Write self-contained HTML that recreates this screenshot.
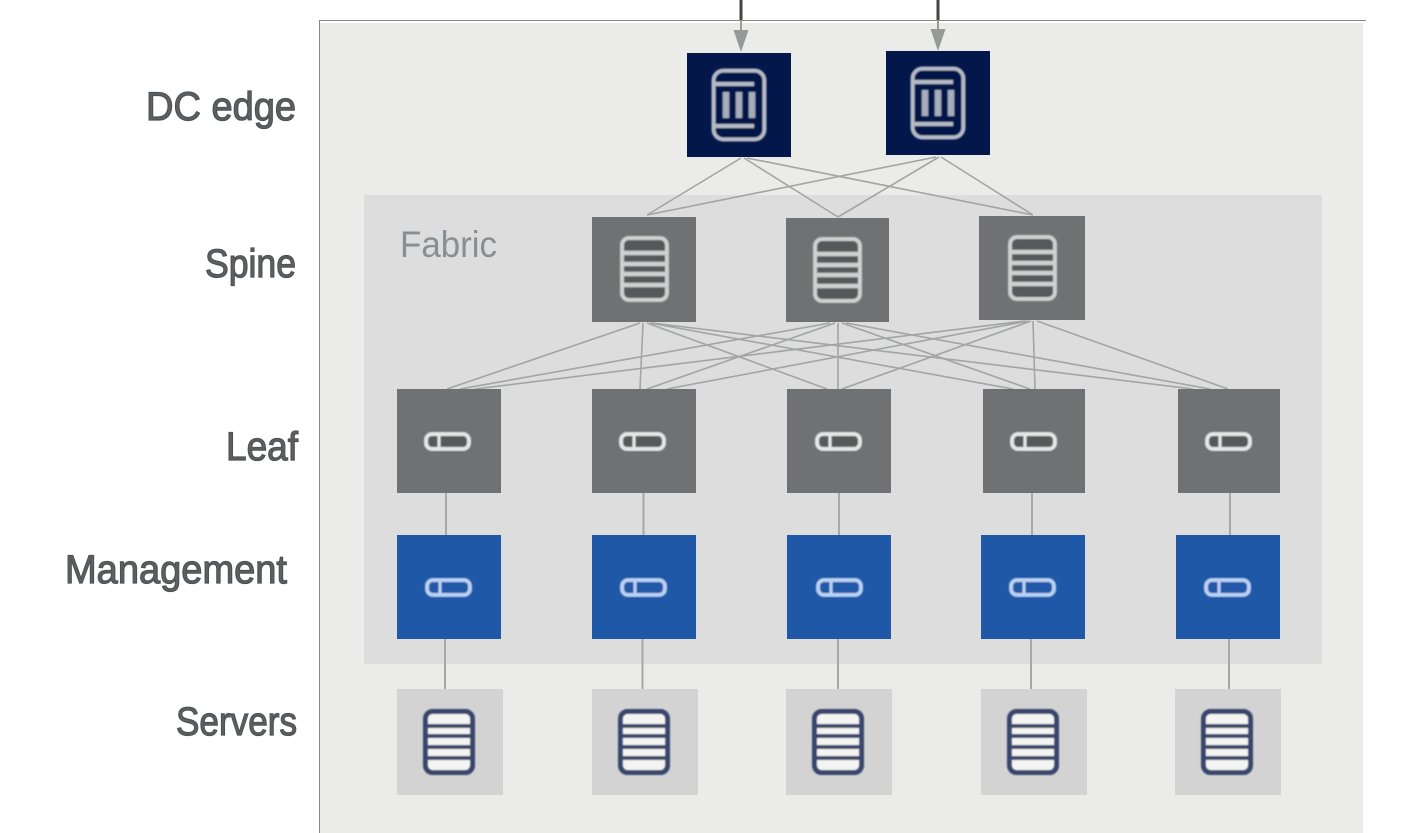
<!DOCTYPE html>
<html>
<head>
<meta charset="utf-8">
<style>
html,body{margin:0;padding:0;background:#fff;width:1403px;height:833px;overflow:hidden}
svg{display:block}
.lb{font-family:"Liberation Sans",sans-serif;font-size:40px;fill:#5d6062;stroke:#4f5254;stroke-width:1.2}
</style>
</head>
<body>
<svg width="1403" height="833" viewBox="0 0 1403 833" xmlns="http://www.w3.org/2000/svg">
<defs>
<filter id="b" x="-20%" y="-20%" width="140%" height="140%"><feGaussianBlur stdDeviation="0.9"/></filter>
<filter id="s" x="-5%" y="-5%" width="110%" height="110%"><feGaussianBlur stdDeviation="0.35"/></filter>
<g id="spine" filter="url(#b)">
  <rect x="2" y="2" width="45" height="62" rx="7" fill="#56595b" stroke="#cfd0d0" stroke-width="4"/>
  <path d="M3 17h43M3 28h43M3 38h43M3 49h43" stroke="#cfd0d0" stroke-width="4.500"/>
</g>
<g id="server" filter="url(#b)">
  <rect x="2.500" y="2.500" width="47" height="61" rx="7" fill="#f4f4f2" stroke="#37456c" stroke-width="5"/>
  <path d="M3 17h44M3 27h44M3 38h44M3 49h44" stroke="#37456c" stroke-width="4"/>
</g>
<g id="edge" filter="url(#b)">
  <rect x="2.500" y="2.500" width="51" height="69" rx="10" fill="#03174a" stroke="#b4b9c5" stroke-width="4"/>
  <path d="M3 16h40M3 58h40" stroke="#b4b9c5" stroke-width="4"/>
  <path d="M15 24v26M28 24v26M41 24v26" stroke="#a6adbc" stroke-width="6.500"/>
</g>
<g id="leaf" filter="url(#b)">
  <rect x="2" y="2" width="43" height="15" rx="6" fill="#56595b" stroke="#e6e6e6" stroke-width="4"/>
  <path d="M15 2v15" stroke="#e6e6e6" stroke-width="3"/>
</g>
<g id="mgmt" filter="url(#b)">
  <rect x="2" y="2" width="43" height="15" rx="6" fill="#2058a8" stroke="#bcd1f2" stroke-width="4"/>
  <path d="M15 2v15" stroke="#bcd1f2" stroke-width="3"/>
</g>
</defs>

<rect x="320" y="23" width="1043" height="810" fill="#ebebea"/>
<path d="M319 20.500H1366" stroke="#858686" stroke-width="1"/>
<path d="M319.500 20V833" stroke="#858686" stroke-width="1"/>
<rect x="364" y="195" width="958" height="469" fill="#dcdddc"/>

<text x="400" y="257" font-family="'Liberation Sans',sans-serif" font-size="37" fill="#8b8e90" textLength="97" lengthAdjust="spacingAndGlyphs" filter="url(#s)">Fabric</text>

<g stroke="#a3a4a4" stroke-width="1.600" fill="none">
  <path d="M741 158L647 215M744 158L838 217M747 158L1033 215"/>
  <path d="M936 157L647 215M939 157L838 217M941 157L1033 215"/>
  <path d="M640 323L447 389M643 323L640 389M647 323L827 389M650 323L1013 389M652 323L1193 389"/>
  <path d="M830 323L460 389M835 323L647 389M838 323L838 389M842 323L1030 389M846 323L1210 389"/>
  <path d="M1025 321L475 389M1028 321L667 389M1031 321L842 389M1033 321L1035 389M1037 321L1228 389"/>
</g>
<g stroke="#a6a7a7" stroke-width="2" fill="none">
  <path d="M446 493V535M643.500 493V535M839 493V535M1032 493V535M1230 493V535"/>
  <path d="M445 639V689M642.500 639V689M838 639V689M1031 639V689M1229 639V689"/>
</g>

<path d="M741 0V20" stroke="#444" stroke-width="3"/>
<path d="M938 0V20" stroke="#444" stroke-width="3"/>
<path d="M741 20V32M938 20V32" stroke="#999a9a" stroke-width="2"/>
<path d="M733.500 30H748.500L741 52Z" fill="#979898"/>
<path d="M930.500 29H945.500L938 51Z" fill="#979898"/>

<rect x="687" y="53" width="104" height="104" fill="#03174a"/>
<rect x="886" y="51" width="104" height="104" fill="#03174a"/>
<use href="#edge" x="711" y="68"/>
<use href="#edge" x="910" y="66"/>

<g fill="#6f7172">
  <rect x="592" y="217" width="104" height="105"/>
  <rect x="786" y="218" width="103" height="104"/>
  <rect x="979" y="216" width="106" height="104"/>
  <rect x="397" y="389" width="104" height="104"/>
  <rect x="592" y="389" width="104" height="104"/>
  <rect x="787" y="389" width="104" height="104"/>
  <rect x="983" y="389" width="102" height="104"/>
  <rect x="1178" y="389" width="102" height="104"/>
</g>
<use href="#spine" x="620" y="236"/>
<use href="#spine" x="813" y="237"/>
<use href="#spine" x="1008" y="235"/>
<use href="#leaf" x="424" y="432"/>
<use href="#leaf" x="619" y="432"/>
<use href="#leaf" x="815" y="432"/>
<use href="#leaf" x="1010" y="432"/>
<use href="#leaf" x="1205" y="432"/>

<g fill="#2058a8">
  <rect x="397" y="535" width="104" height="104"/>
  <rect x="592" y="535" width="104" height="104"/>
  <rect x="787" y="535" width="104" height="104"/>
  <rect x="981" y="535" width="104" height="104"/>
  <rect x="1176" y="535" width="104" height="104"/>
</g>
<use href="#mgmt" x="425" y="578"/>
<use href="#mgmt" x="620" y="578"/>
<use href="#mgmt" x="816" y="578"/>
<use href="#mgmt" x="1009" y="578"/>
<use href="#mgmt" x="1204" y="578"/>

<g fill="#d3d3d3">
  <rect x="397" y="689" width="106" height="106"/>
  <rect x="592" y="689" width="106" height="106"/>
  <rect x="786" y="689" width="106" height="106"/>
  <rect x="981" y="689" width="106" height="106"/>
  <rect x="1175" y="689" width="106" height="106"/>
</g>
<use href="#server" x="423" y="709"/>
<use href="#server" x="618" y="709"/>
<use href="#server" x="812" y="709"/>
<use href="#server" x="1007" y="709"/>
<use href="#server" x="1201" y="709"/>

<text class="lb" x="146" y="120" textLength="150" lengthAdjust="spacingAndGlyphs">DC edge</text>
<text class="lb" x="205" y="277" textLength="91" lengthAdjust="spacingAndGlyphs">Spine</text>
<text class="lb" x="226" y="460" textLength="72" lengthAdjust="spacingAndGlyphs">Leaf</text>
<text class="lb" x="65" y="583" textLength="222" lengthAdjust="spacingAndGlyphs">Management</text>
<text class="lb" x="176" y="735" textLength="121" lengthAdjust="spacingAndGlyphs">Servers</text>
</svg>
</body>
</html>
